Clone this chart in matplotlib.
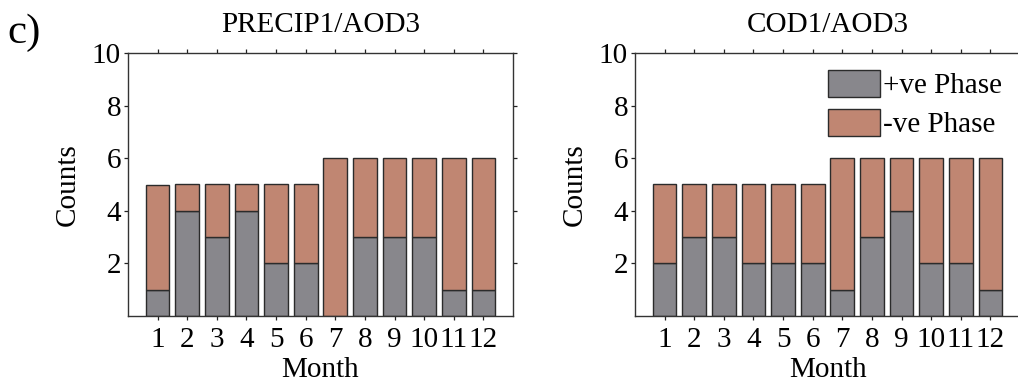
import matplotlib
matplotlib.use("Agg")
import matplotlib.pyplot as plt
import numpy as np

months = [1, 2, 3, 4, 5, 6, 7, 8, 9, 10, 11, 12]
month_labels = ["1", "2", "3", "4", "5", "6", "7", "8", "9", "10", "11", "12"]

precip_pos = [1, 4, 3, 4, 2, 2, 0, 3, 3, 3, 1, 1]
precip_neg = [4, 1, 2, 1, 3, 3, 6, 3, 3, 3, 5, 5]

cod_pos = [2, 3, 3, 2, 2, 2, 1, 3, 4, 2, 2, 1]
cod_neg = [3, 2, 2, 3, 3, 3, 5, 3, 2, 4, 4, 5]

titles = ["PRECIP1/AOD3", "COD1/AOD3"]
ytick_vals = [2, 4, 6, 8, 10]

plt.rcParams['font.family'] = ['Liberation Serif', 'DejaVu Serif']
FS = 21
GRAY = "#88878c"
BROWN = "#c08672"
EDGE = "#2b2b2b"

W, H = 1018, 384
fig = plt.figure(figsize=(W / 100, H / 100), dpi=100)

def ax_rect(x0, y0, x1, y1):
    return [x0 / W, 1 - y1 / H, (x1 - x0) / W, (y1 - y0) / H]

axes = [fig.add_axes(ax_rect(128, 53, 513, 316)),
        fig.add_axes(ax_rect(635, 53, 1020, 316))]

data = [(precip_pos, precip_neg), (cod_pos, cod_neg)]

for ax, (pos, neg), title in zip(axes, data, titles):
    ax.bar(months, pos, width=0.8, color=GRAY, edgecolor=EDGE, linewidth=1.0,
           label="+ve Phase")
    ax.bar(months, neg, bottom=pos, width=0.8, color=BROWN, edgecolor=EDGE,
           linewidth=1.0, label="-ve Phase")
    ax.set_xlim(0, 13)
    ax.set_ylim(0, 10)
    ax.set_xticks(months)
    ax.set_xticklabels(month_labels)
    ax.set_yticks(ytick_vals)
    ax.tick_params(axis='both', which='both', direction='out', length=3.0, width=0.9,
                   labelsize=FS, top=True, right=True, pad=2, colors="#222222",
                   labelcolor="black")
    ax.tick_params(axis='x', pad=5)
    for sp in ax.spines.values():
        sp.set_linewidth(1.0)
        sp.set_color("#333333")
    ax.set_title(title, fontsize=FS, pad=15)
    ax.set_xlabel("Month", fontsize=FS, labelpad=3)
    ax.set_ylabel("Counts", fontsize=FS, labelpad=8)

axes[1].legend(loc="upper left", bbox_to_anchor=((828 - 635) / 385, (53 - 70) / 263 + 1),
               frameon=False, fontsize=FS, handlelength=1.78, handleheight=1.05,
               handletextpad=0.1, labelspacing=0.32, borderaxespad=0, borderpad=0)

fig.text(7 / W, 1 - 13 / H, "c)", fontsize=31, va="top", ha="left")

fig.savefig("out.png", dpi=100)
